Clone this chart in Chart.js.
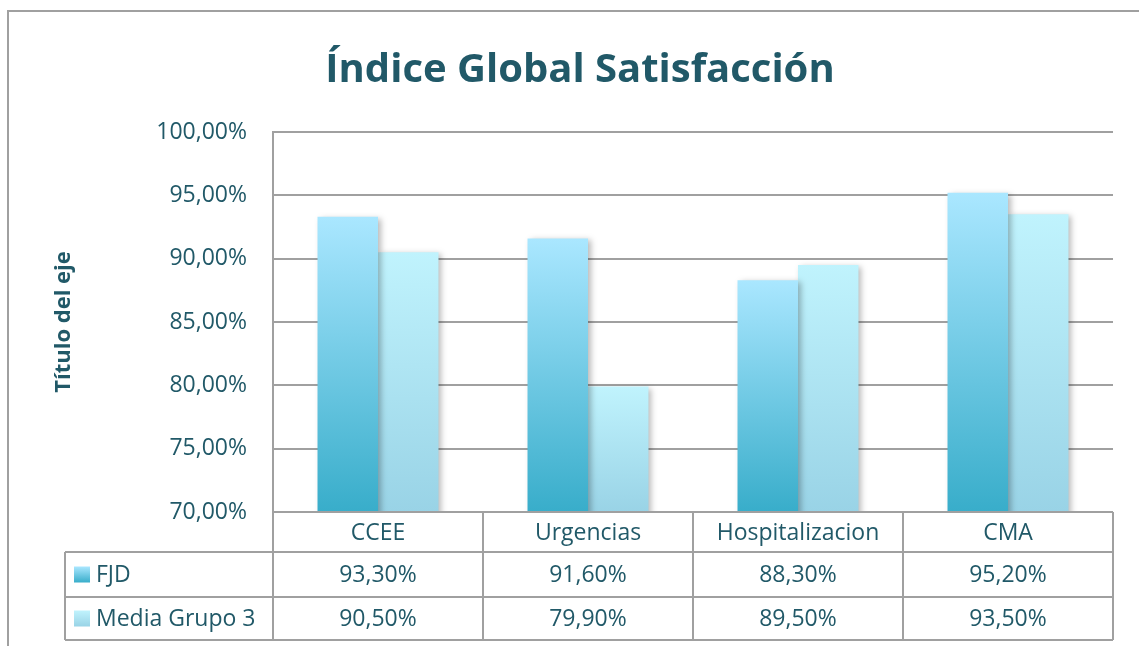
<!DOCTYPE html>
<html>
<head>
<meta charset="utf-8">
<script src="https://cdn.jsdelivr.net/npm/chart.js@4"></script>
<style>
  body { margin: 0; background: #fff; }
  #wrap { width: 1139px; height: 646px; position: relative; }
</style>
</head>
<body>
<div id="wrap"><canvas id="satisfChart"></canvas></div>
<script>
const categories = ['CCEE', 'Urgencias', 'Hospitalizacion', 'CMA'];
const seriesNames = ['FJD', 'Media Grupo 3'];
const fjdValues = [93.3, 91.6, 88.3, 95.2];
const mediaValues = [90.5, 79.9, 89.5, 93.5];
const yTicks = [70, 75, 80, 85, 90, 95, 100];

const textColor = '#215968';
const lineColor = '#a0a0a0';
const fontName = "'Open Sans', 'Noto Sans', sans-serif";
// top / bottom colours of each series' gradient
const fills = [['#aae7ff', '#38adca'], ['#c0f3fd', '#99d3e6']];

const fmt = v => v.toFixed(2).replace('.', ',') + '%';

function barFill(idx) {
    return function (context) {
        const chart = context.chart;
        const area = chart.chartArea;
        if (!area || context.raw === undefined) return fills[idx][1];
        const top = chart.scales.y.getPixelForValue(context.raw);
        const g = chart.ctx.createLinearGradient(0, top, 0, area.bottom);
        g.addColorStop(0, fills[idx][0]);
        g.addColorStop(1, fills[idx][1]);
        return g;
    };
}

// soft shadow behind the bars
const barShadow = {
    id: 'barShadow',
    beforeDatasetsDraw(chart) {
        const ctx = chart.ctx;
        ctx.save();
        ctx.shadowColor = 'rgba(0,0,0,0.28)';
        ctx.shadowBlur = 6;
        ctx.shadowOffsetX = 3;
        ctx.shadowOffsetY = 2;
    },
    afterDatasetsDraw(chart) {
        chart.ctx.restore();
    }
};

// outer frame + data table under the plot
const dataTable = {
    id: 'dataTable',
    afterDraw(chart) {
        const ctx = chart.ctx;
        const area = chart.chartArea;
        const x = chart.scales.x;
        const colW = (area.right - area.left) / categories.length;
        const rows = [area.bottom, area.bottom + 40, area.bottom + 85, area.bottom + 128];
        const legendLeft = 65;

        ctx.save();
        ctx.strokeStyle = lineColor;
        ctx.lineWidth = 2;
        ctx.strokeRect(8, 11, 1300, 800);

        ctx.beginPath();
        ctx.moveTo(area.left, rows[0]); ctx.lineTo(area.right, rows[0]);
        for (let r = 1; r < rows.length; r++) {
            ctx.moveTo(legendLeft, rows[r]); ctx.lineTo(area.right, rows[r]);
        }
        ctx.moveTo(legendLeft, rows[1]); ctx.lineTo(legendLeft, rows[3]);
        for (let i = 0; i <= categories.length; i++) {
            const cx = area.left + i * colW;
            ctx.moveTo(cx, rows[0]); ctx.lineTo(cx, rows[3]);
        }
        ctx.stroke();

        ctx.fillStyle = textColor;
        ctx.font = '23px ' + fontName;
        ctx.textAlign = 'center';
        ctx.textBaseline = 'middle';
        const values = [fjdValues, mediaValues];
        categories.forEach((c, i) => {
            const cx = x.getPixelForValue(i);
            ctx.fillText(c, cx, (rows[0] + rows[1]) / 2 + 1);
            values.forEach((arr, s) => {
                ctx.fillText(fmt(arr[i]), cx, (rows[s + 1] + rows[s + 2]) / 2 + 1);
            });
        });

        // legend keys
        ctx.textAlign = 'left';
        seriesNames.forEach((name, s) => {
            const cy = (rows[s + 1] + rows[s + 2]) / 2;
            const g = ctx.createLinearGradient(0, cy - 8, 0, cy + 8);
            g.addColorStop(0, fills[s][0]);
            g.addColorStop(1, fills[s][1]);
            ctx.fillStyle = g;
            ctx.fillRect(74, cy - 8, 16, 16);
            ctx.fillStyle = textColor;
            ctx.fillText(name, 96, cy + 1);
        });
        ctx.restore();
    }
};

const satisfCtx = document.getElementById('satisfChart').getContext('2d');

new Chart(satisfCtx, {
    type: 'bar',
    data: {
        labels: categories,
        datasets: [{
            label: seriesNames[0],
            data: fjdValues,
            backgroundColor: barFill(0),
            categoryPercentage: 0.576,
            barPercentage: 1
        }, {
            label: seriesNames[1],
            data: mediaValues,
            backgroundColor: barFill(1),
            categoryPercentage: 0.576,
            barPercentage: 1
        }]
    },
    options: {
        responsive: true,
        maintainAspectRatio: false,
        animation: false,
        layout: {
            padding: { left: 47, right: 26, top: 0, bottom: 134 }
        },
        plugins: {
            legend: { display: false },
            tooltip: { enabled: false },
            title: {
                display: true,
                text: 'Índice Global Satisfacción',
                color: textColor,
                font: { family: fontName, size: 40, weight: 'bold' },
                padding: { top: 46.8, bottom: 37.2 }
            }
        },
        scales: {
            x: { display: false },
            y: {
                min: 70,
                max: 100,
                afterFit: s => { s.width = 226; },
                afterBuildTicks: s => { s.ticks = yTicks.map(v => ({ value: v })); },
                ticks: {
                    color: textColor,
                    padding: 26,
                    font: { family: fontName, size: 23 },
                    callback: v => fmt(v)
                },
                grid: { color: lineColor, lineWidth: 2, drawTicks: false },
                border: { display: true, color: lineColor, width: 2 },
                title: {
                    display: true,
                    text: 'Título del eje',
                    color: textColor,
                    font: { family: fontName, size: 22, weight: 'bold' },
                    padding: { top: 4, bottom: 0 }
                }
            }
        }
    },
    plugins: [barShadow, dataTable]
});
</script>
</body>
</html>
